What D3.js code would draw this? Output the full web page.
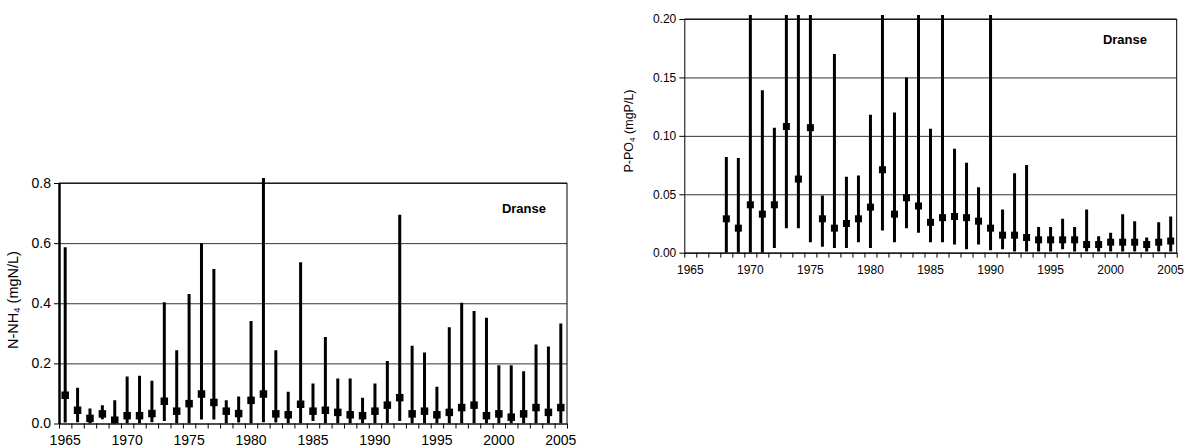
<!DOCTYPE html>
<html>
<head>
<meta charset="utf-8">
<script src="https://cdn.jsdelivr.net/npm/d3@7"></script>
<style>
  body { margin: 0; background: #fff; }
  svg text { font-family: "Liberation Sans", Arial, sans-serif; fill: #000; }
</style>
</head>
<body>
<div id="chart"></div>
<script>
// categories
const years = d3.range(1965, 2006)
const yearTicks = [1965, 1970, 1975, 1980, 1985, 1990, 1995, 2000, 2005]

// N-NH4 (mgN/L)
const nhMax = [0.586,0.119,0.050,0.061,0.077,0.156,0.159,0.142,0.403,0.244,0.431,0.600,0.514,
  0.077,0.090,0.341,0.817,0.244,0.106,0.536,0.133,0.288,0.150,0.150,0.086,0.133,0.208,
  0.694,0.259,0.236,0.122,0.320,0.402,0.374,0.352,0.194,0.194,0.174,0.263,0.256,0.333]
const nhMean = [0.094,0.044,0.017,0.032,0.011,0.026,0.026,0.033,0.074,0.041,0.066,0.098,0.070,
  0.041,0.033,0.077,0.098,0.032,0.029,0.064,0.041,0.044,0.037,0.029,0.026,0.041,0.061,
  0.086,0.032,0.041,0.029,0.037,0.053,0.061,0.026,0.032,0.021,0.032,0.053,0.037,0.053]
const nhMin = [0.003,0.004,0,0.014,0,0,0,0.004,0.008,0,0,0.013,0.013,
  0,0.003,0,0.004,0.003,0,0,0.008,0,0,0,0,0,0,
  0.008,0,0,0,0,0,0,0,0,0,0,0,0,0]
const nhTicks = [0, 0.2, 0.4, 0.6, 0.8]

// P-PO4 (mgP/L), no data before 1968, tops above 0.20 are cut off in the picture
const poMax = [null,null,null,0.082,0.081,0.25,0.139,0.107,0.25,0.25,0.25,0.049,0.170,0.065,
  0.066,0.118,0.25,0.120,0.150,0.25,0.106,0.25,0.089,0.077,0.056,0.25,0.037,0.068,
  0.075,0.022,0.022,0.029,0.022,0.037,0.014,0.017,0.033,0.027,0.013,0.026,0.031]
const poMean = [null,null,null,0.029,0.021,0.041,0.033,0.041,0.108,0.063,0.107,0.029,0.021,0.025,
  0.029,0.039,0.071,0.033,0.047,0.040,0.026,0.030,0.031,0.030,0.027,0.021,0.015,0.015,
  0.013,0.011,0.011,0.011,0.011,0.007,0.007,0.009,0.009,0.009,0.007,0.009,0.010]
const poMin = [null,null,null,0,0,0,0,0.004,0.021,0.021,0.009,0.005,0.004,0.004,
  0.009,0.004,0.019,0.009,0.021,0.017,0.009,0.009,0.007,0.003,0.007,0.002,0.003,0.001,
  0.001,0.001,0.001,0.003,0.001,0.001,0.001,0.001,0.001,0.001,0.001,0.001,0.001]
const poTicks = [0, 0.05, 0.10, 0.15, 0.20]

const svg = d3.select('#chart')
    .append('svg')
    .attr('width', 1189)
    .attr('height', 447)

function panel(cfg){
    let g = svg.append('g')

    let x = d3.scaleBand().domain(years).range([cfg.left, cfg.right]).padding(0)
    let y = d3.scaleLinear().domain([0, cfg.yMax]).range([cfg.bottom, cfg.top])
    // tick marks sit between categories
    let xb = d3.scaleLinear().domain([0, years.length]).range([cfg.left, cfg.right])

    // gridlines
    g.append('g')
        .attr('transform', `translate(${cfg.left},0)`)
        .call(d3.axisLeft(y).tickValues(cfg.ticks).tickSize(-(cfg.right - cfg.left)).tickFormat(''))
        .call(a => a.select('.domain').remove())
        .selectAll('line').attr('stroke', '#000').attr('stroke-width', 0.8)

    // frame top + right
    g.append('path')
        .attr('d', `M${cfg.left},${cfg.top}H${cfg.right}V${cfg.bottom}`)
        .attr('fill', 'none').attr('stroke', '#000').attr('stroke-width', 1)

    let data = years.map((yr, i) => ({year: yr, lo: cfg.min[i], hi: cfg.max[i], mean: cfg.mean[i]}))
        .filter(d => d.mean != null)

    let clipId = 'clip' + cfg.id
    svg.append('clipPath').attr('id', clipId)
        .append('rect')
        .attr('x', cfg.left).attr('y', cfg.top - cfg.over)
        .attr('width', cfg.right - cfg.left).attr('height', cfg.bottom - cfg.top + cfg.over)

    let marks = g.append('g').attr('clip-path', `url(#${clipId})`)

    marks.selectAll('line.range')
        .data(data)
        .join('line')
        .attr('class', 'range')
        .attr('x1', d => x(d.year) + x.bandwidth() / 2)
        .attr('x2', d => x(d.year) + x.bandwidth() / 2)
        .attr('y1', d => y(d.lo))
        .attr('y2', d => y(d.hi))
        .attr('stroke', '#000')
        .attr('stroke-width', cfg.lineW)

    marks.selectAll('rect.mean')
        .data(data)
        .join('rect')
        .attr('class', 'mean')
        .attr('x', d => x(d.year) + x.bandwidth() / 2 - cfg.sq / 2)
        .attr('y', d => y(d.mean) - cfg.sq / 2)
        .attr('width', cfg.sq)
        .attr('height', cfg.sq)
        .attr('fill', '#000')

    // y axis
    let ya = g.append('g')
        .attr('transform', `translate(${cfg.left},0)`)
        .call(d3.axisLeft(y).tickValues(cfg.ticks).tickSize(5).tickSizeOuter(0).tickFormat(d3.format(cfg.fmt)))
    ya.select('.domain').attr('stroke-width', cfg.axisW)
    ya.selectAll('text').style('font-size', cfg.font + 'px').attr('x', -8)

    // x axis: tick marks between years, labels every 5 years
    g.append('g')
        .attr('transform', `translate(0,${cfg.bottom})`)
        .call(d3.axisBottom(xb).tickValues(d3.range(years.length + 1)).tickSize(5).tickSizeOuter(0).tickFormat(''))
        .select('.domain').attr('stroke-width', 1.2)

    let xa = g.append('g')
        .attr('transform', `translate(0,${cfg.bottom})`)
        .call(d3.axisBottom(x).tickValues(yearTicks).tickSize(0))
    xa.select('.domain').remove()
    xa.selectAll('text').style('font-size', cfg.font + 'px').attr('y', 0).attr('dy', cfg.labelDy)

    // y title
    let t = g.append('text')
        .attr('transform', `translate(${cfg.titleX},${cfg.titleY}) rotate(-90)`)
        .attr('text-anchor', 'middle')
        .style('font-size', cfg.titleFont + 'px')
    t.append('tspan').text(cfg.title[0])
    t.append('tspan').text(cfg.title[1]).style('font-size', (cfg.titleFont * 0.65) + 'px').attr('dy', 2)
    t.append('tspan').text(cfg.title[2]).attr('dy', -2)

    g.append('text')
        .attr('x', cfg.tagX).attr('y', cfg.tagY)
        .attr('text-anchor', 'end')
        .style('font-size', '13px')
        .style('font-weight', 'bold')
        .text('Dranse')
}

panel({id: 'nh', left: 59, right: 567, top: 183, bottom: 423.5, yMax: 0.8,
    ticks: nhTicks, fmt: '.1f', min: nhMin, max: nhMax, mean: nhMean,
    lineW: 3, sq: 7.5, axisW: 2.5, over: 10, font: 14, labelDy: 21.5,
    title: ['N-NH', '4', ' (mgN/L)'], titleFont: 14.5, titleX: 18, titleY: 300,
    tagX: 546, tagY: 213})

panel({id: 'po', left: 684.3, right: 1176.7, top: 19, bottom: 252.7, yMax: 0.2,
    ticks: poTicks, fmt: '.2f', min: poMin, max: poMax, mean: poMean,
    lineW: 3, sq: 7, axisW: 1, over: 4, font: 12, labelDy: 21.5,
    title: ['P-PO', '4', ' (mgP/L)'], titleFont: 12.5, titleX: 633, titleY: 131,
    tagX: 1147, tagY: 44})
</script>
</body>
</html>
